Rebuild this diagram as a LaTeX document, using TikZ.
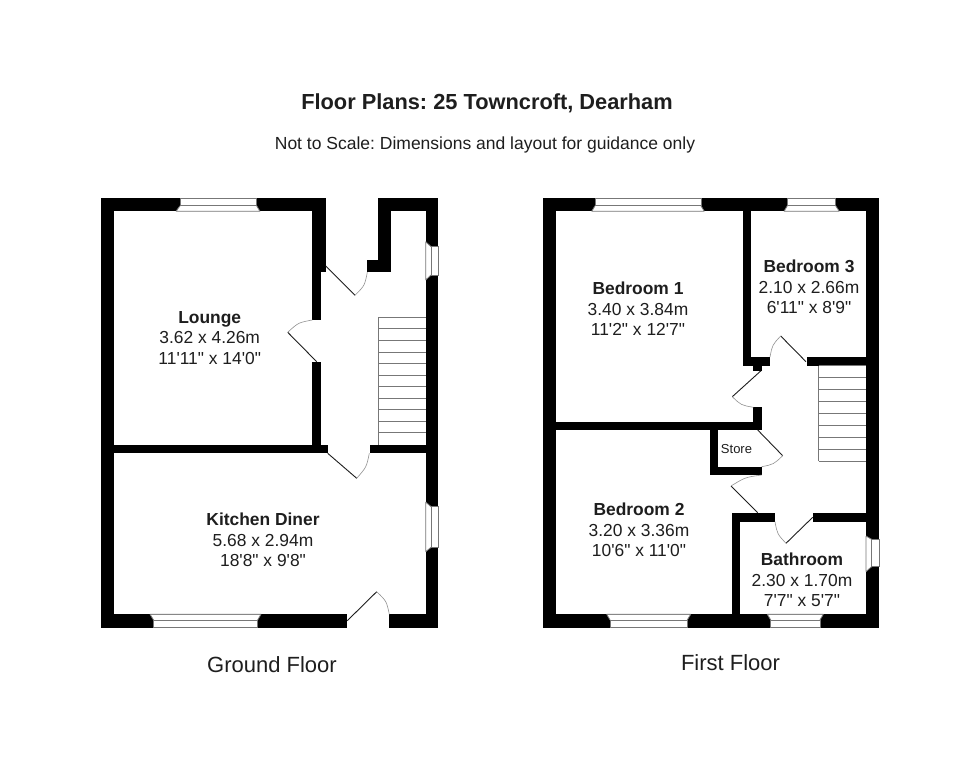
\documentclass[tikz,border=0pt]{standalone}
\usepackage{fontspec}
\setmainfont{Liberation Sans}[Ligatures=TeXOff]
\usetikzlibrary{calc}
\definecolor{ink}{HTML}{1E1E1E}
\definecolor{frame}{HTML}{777777}
\frenchspacing
\tikzset{
  wallfill/.style={fill=black,draw=none},
  leaf/.style={draw=ink,line width=0.9pt},
  swing/.style={draw=frame!80,line width=0.6pt},
  glass/.style={draw=frame,line width=0.8pt},
  treadline/.style={draw=frame,line width=0.8pt},
  roomtext/.style={text=ink,align=center,inner sep=0pt,font=\fontsize{17.4}{20.6}\selectfont},
  captiontext/.style={text=ink,inner sep=0pt},
}
% x1 y1 x2 y2
\newcommand\wallrect[4]{\fill[wallfill] (#1,#2) rectangle (#3,#4);}
% hinge, tip, jamb
\newcommand\doorswing[6]{%
  \coordinate (dh) at (#1,#2); \coordinate (dt) at (#3,#4); \coordinate (dj) at (#5,#6);
  \draw[leaf] (dh) -- (dt);
  \draw[swing] (dt) .. controls ($0.55*(dt)+0.55*(dj)-0.1*(dh)$) .. (dj);}
% inner y, outer y, splay x1, glass x1, glass x2, splay x2
\newcommand\hwindow[6]{%
  \pgfmathsetmacro\wk{#1+0.42*(#2-#1)}%
  \fill[white] (#3,#1) -- (#4,\wk) -- (#4,#2) -- (#5,#2) -- (#5,\wk) -- (#6,#1) -- cycle;
  \draw[glass] (#3,#1) -- (#4,\wk) (#6,#1) -- (#5,\wk) (#3,#1) -- (#6,#1);
  \draw[glass] (#4,\wk) -- (#5,\wk) (#4,#2) -- (#5,#2) (#4,\wk) -- (#4,#2) (#5,\wk) -- (#5,#2);}
% inner x, outer x, splay y1, glass y1, glass y2, splay y2
\newcommand\vwindow[6]{%
  \pgfmathsetmacro\wk{#1+0.42*(#2-#1)}%
  \fill[white] (#1,#3) -- (\wk,#4) -- (#2,#4) -- (#2,#5) -- (\wk,#5) -- (#1,#6) -- cycle;
  \draw[glass] (#1,#3) -- (\wk,#4) (#1,#6) -- (\wk,#5) (#1,#3) -- (#1,#6);
  \draw[glass] (\wk,#4) -- (\wk,#5) (#2,#4) -- (#2,#5) (\wk,#4) -- (#2,#4) (\wk,#5) -- (#2,#5);}
\begin{document}
\begin{tikzpicture}[x=1pt,y=-1pt]
\useasboundingbox (0,0) rectangle (980,781);
\fill[white] (0,0) rectangle (980,781);

% ===== Ground floor =====
\wallrect{101}{198.3}{114}{627.7}
\wallrect{101}{198.3}{325.7}{211.3}
\wallrect{312.3}{198.3}{325.7}{272.3}
\wallrect{312.3}{270}{321.3}{319.5}
\wallrect{312.3}{361.7}{321.3}{450}
\wallrect{101}{445}{327.7}{453.3}
\wallrect{370}{445}{438.3}{453.3}
\wallrect{378}{198.3}{438.3}{211.3}
\wallrect{378}{198.3}{391.3}{272.3}
\wallrect{367.3}{259.5}{391.3}{272.3}
\wallrect{425.7}{198.3}{438.3}{627.7}
\wallrect{101}{614.3}{347.3}{627.7}
\wallrect{389.3}{614.3}{438.3}{627.7}
\hwindow{211.3}{198.3}{176}{180}{256.7}{260}
\hwindow{614.3}{627.7}{150}{153.5}{257.7}{261}
\vwindow{425.7}{438.6}{241.7}{246.7}{275}{280}
\vwindow{425.7}{438.6}{502}{506.7}{547.3}{551.7}
\doorswing{325.7}{266}{355}{295.3}{367.3}{272.3}
\doorswing{316.7}{361.7}{287.7}{332.3}{312.3}{320}
\doorswing{327.7}{453.3}{356.7}{478.3}{369.3}{453.3}
\doorswing{347.3}{620.7}{376.7}{591.7}{389.3}{614.3}
% stairs
\foreach \k in {0,...,10}{\draw[treadline] (378.5,{317.3+\k*11.55}) -- (425.7,{317.3+\k*11.55});}
\draw[treadline] (378.5,317.3) -- (378.5,445);

% ===== First floor =====
\wallrect{542.7}{198.3}{555.7}{627.7}
\wallrect{542.7}{198.3}{879.3}{211.3}
\wallrect{866}{198.3}{879.3}{627.7}
\wallrect{542.7}{614.3}{879.3}{627.7}
\wallrect{742.7}{198.3}{751}{365.7}
\wallrect{742.7}{357}{770}{365.7}
\wallrect{753.3}{365.7}{761.7}{370.7}
\wallrect{806.7}{357}{866}{365.7}
\wallrect{753.3}{406.7}{761.7}{430}
\wallrect{542.7}{421.7}{761.7}{430}
\wallrect{710}{421.7}{718.3}{475}
\wallrect{710}{466.7}{761.7}{475}
\wallrect{731.7}{513.3}{775}{521.7}
\wallrect{812.7}{513.3}{866}{521.7}
\wallrect{731.7}{513.3}{740}{627.7}
\hwindow{211.3}{198.3}{591.7}{595}{701}{704.3}
\hwindow{211.3}{198.3}{784}{787.3}{835.7}{839.3}
\hwindow{614.3}{627.7}{606.7}{610}{687.3}{690.7}
\hwindow{614.3}{627.7}{767.3}{770.7}{820}{823.3}
\vwindow{866}{879.3}{536}{539.3}{566.7}{571.7}
\doorswing{806}{361.7}{780.7}{336}{770}{357}
\doorswing{761}{370.7}{732.3}{396.7}{753.3}{407.3}
\doorswing{757.7}{430}{782.7}{455.7}{761.7}{466.7}
\doorswing{757.7}{512.7}{731}{486}{761.7}{475}
\doorswing{812.7}{517.3}{786}{543.3}{775}{521.7}
% stairs
\foreach \k in {0,...,8}{\draw[treadline] (818.7,{365.7+\k*11.91}) -- (866,{365.7+\k*11.91});}
\draw[treadline] (818.7,365.7) -- (818.7,461);

% ===== Labels =====
\node[captiontext,font=\fontsize{21.8}{26}\selectfont\bfseries] (title) at (487,103.3) {Floor Plans: 25 Towncroft, Dearham};
\node[captiontext,font=\fontsize{17.5}{21}\selectfont] (subtitle) at (485,144.5) {Not to Scale: Dimensions and layout for guidance only};
\node[captiontext,font=\fontsize{22}{26}\selectfont] (ground) at (272,664.5) {Ground Floor};
\node[captiontext,font=\fontsize{22}{26}\selectfont] (first) at (730.5,662.5) {First Floor};
\node[roomtext] (lounge) at (209.7,338) {\textbf{Lounge}\\3.62 x 4.26m\\11'11" x 14'0"};
\node[roomtext] (kitchen) at (263,540) {\textbf{Kitchen Diner}\\5.68 x 2.94m\\18'8" x 9'8"};
\node[roomtext] (bed1) at (638,309) {\textbf{Bedroom 1}\\3.40 x 3.84m\\11'2" x 12'7"};
\node[roomtext] (bed3) at (809,287) {\textbf{Bedroom 3}\\2.10 x 2.66m\\6'11" x 8'9"};
\node[roomtext] (bed2) at (639,530) {\textbf{Bedroom 2}\\3.20 x 3.36m\\10'6" x 11'0"};
\node[roomtext] (bath) at (802,580) {\textbf{Bathroom}\\2.30 x 1.70m\\7'7" x 5'7"};
\node[roomtext,font=\fontsize{13}{15}\selectfont] (store) at (736.5,449) {Store};
\end{tikzpicture}
\end{document}
